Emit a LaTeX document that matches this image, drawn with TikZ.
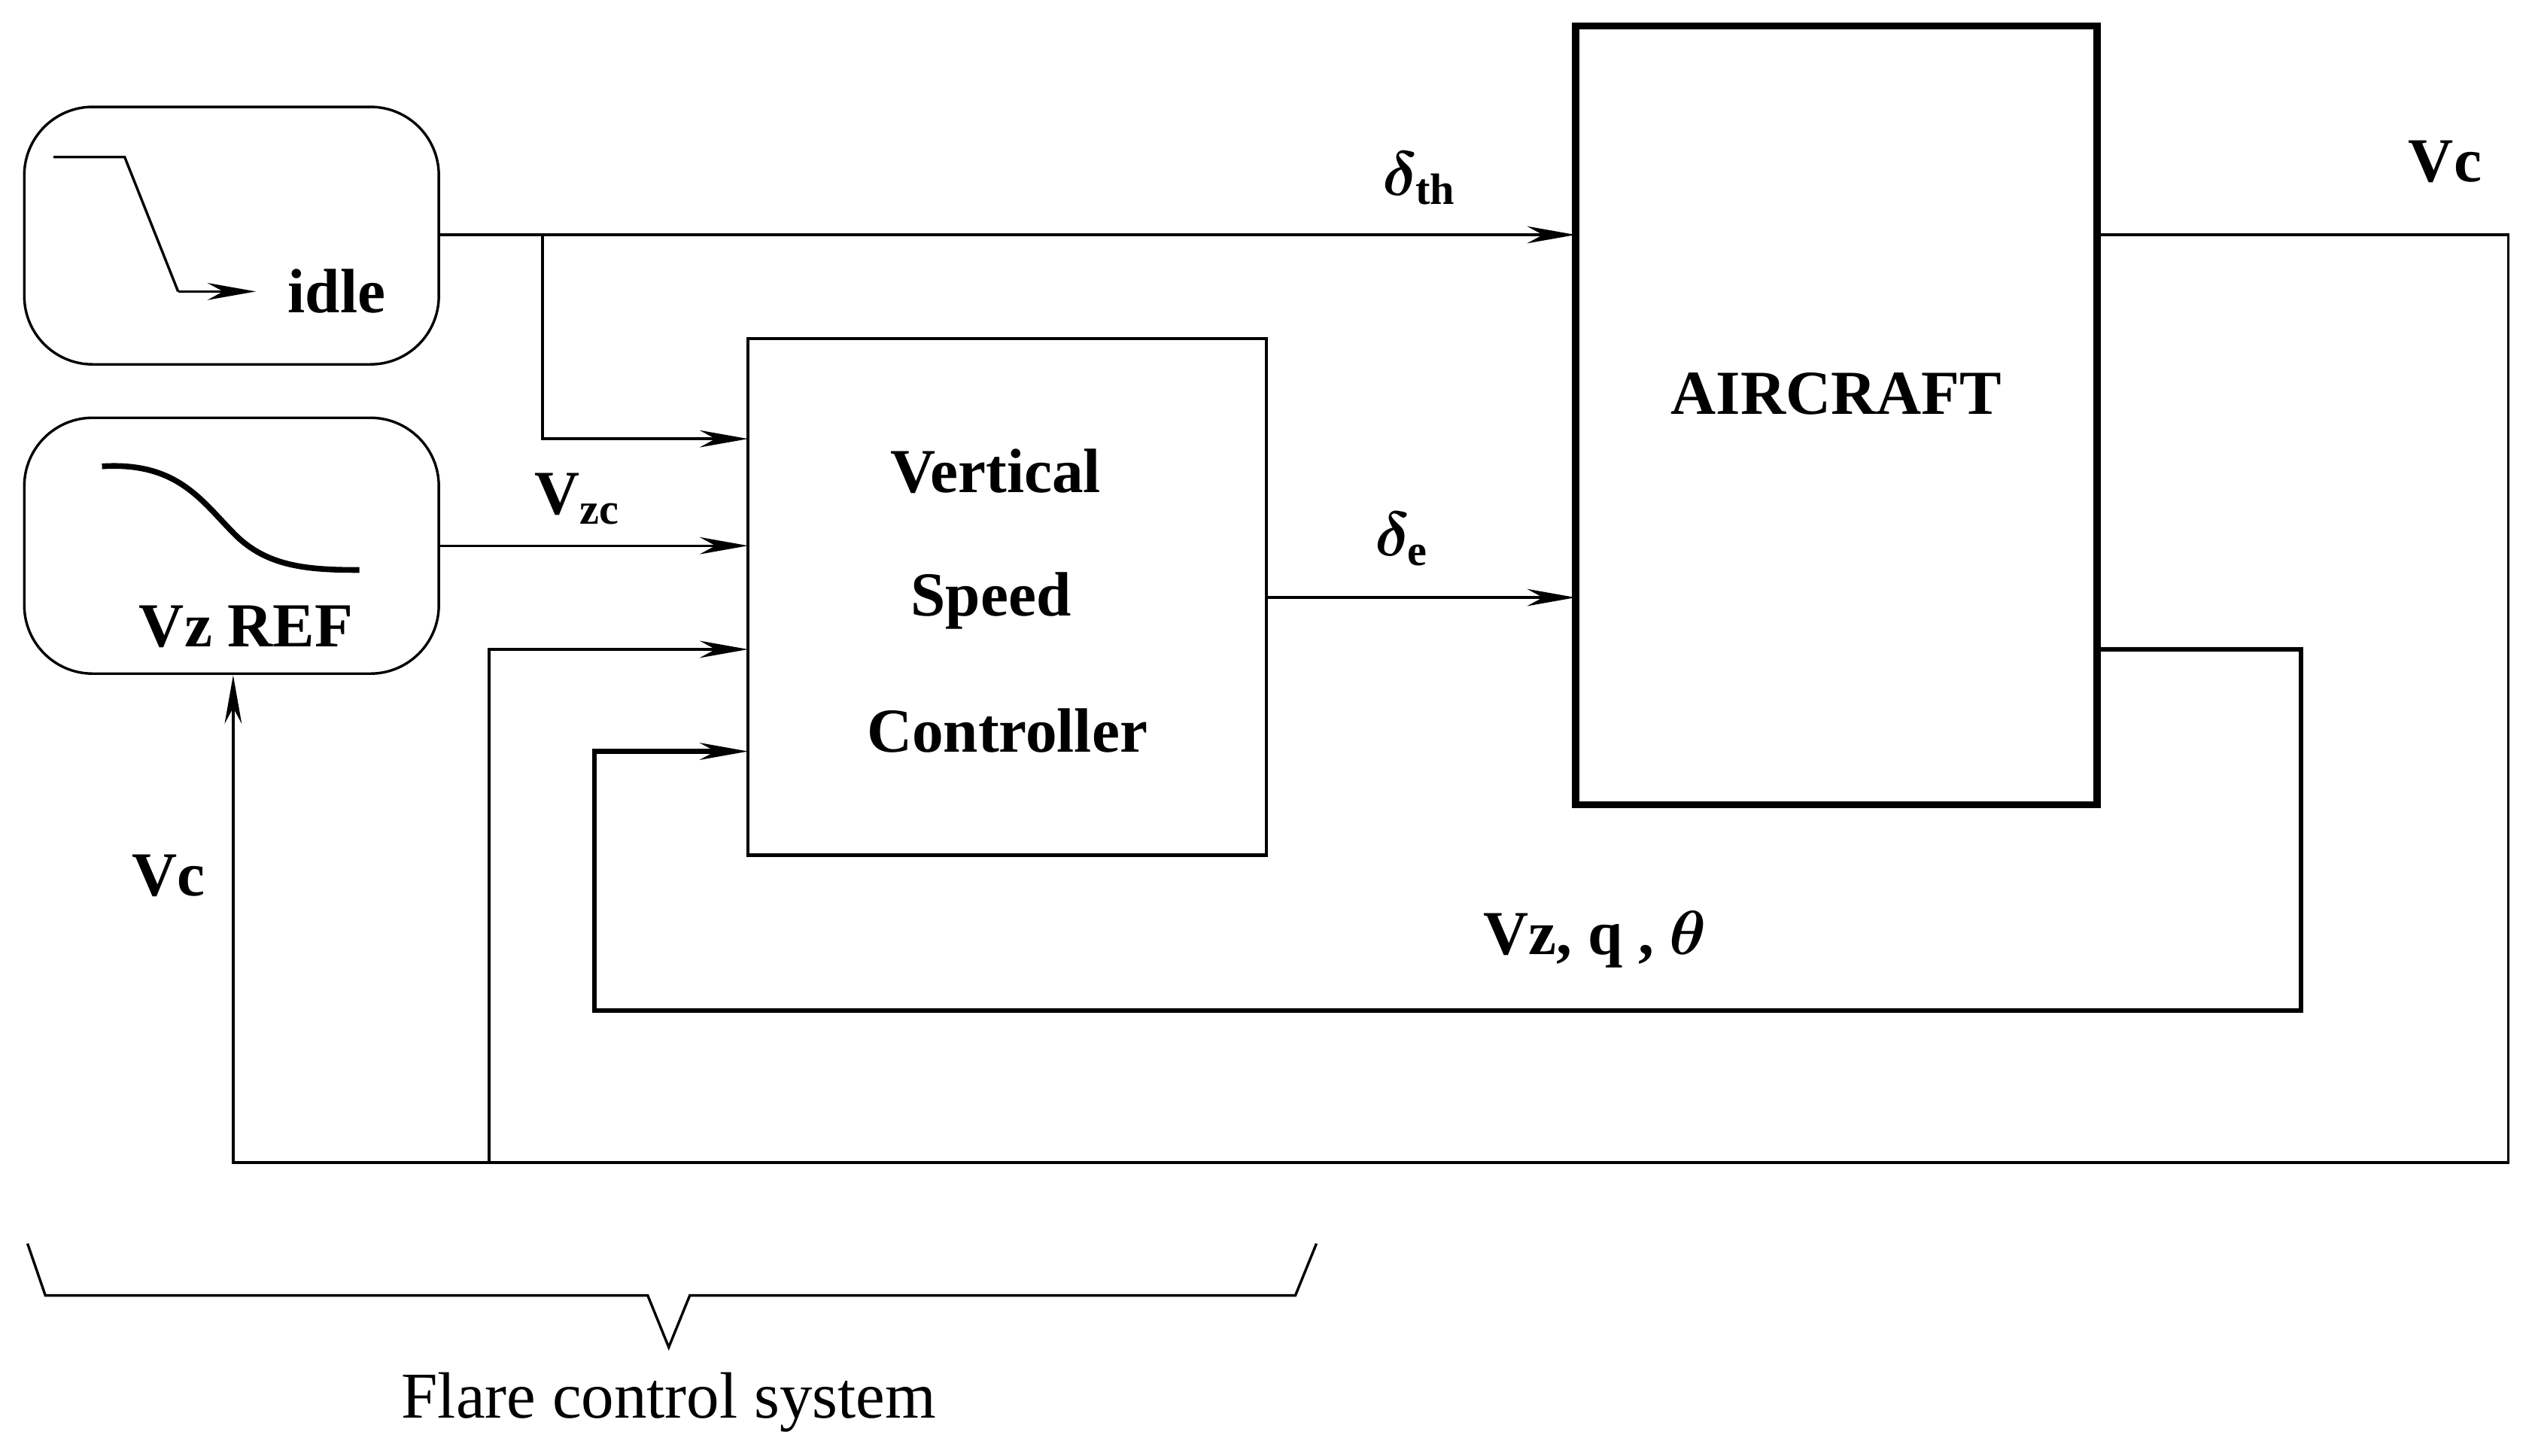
\documentclass[tikz,border=0pt]{standalone}
\usepackage{amsmath,bm}
\usepackage{fontspec}
\setmainfont{Liberation Serif}
\usetikzlibrary{arrows.meta}
\begin{document}
\begin{tikzpicture}[x=0.01cm,y=-0.01cm,
  ln/.style={line width=0.45pt},
  arr/.style={ln,-{Stealth[length=8.5pt,width=3pt]}},
  lbl/.style={font=\fontsize{11}{13}\selectfont\bfseries}]
\useasboundingbox (0,0) rectangle (1560,899);
% boxes
\draw[ln,rounded corners=12pt] (15,66) rectangle (271,225);
\draw[ln,rounded corners=12pt] (15,258) rectangle (271,416);
\draw[line width=0.6pt] (462,209) rectangle (782,528);
\draw[line width=1.3pt] (973,16) rectangle (1295,497);
\coordinate (thA) at (271,145); \coordinate (thB) at (973,145);
\coordinate (zcA) at (271,337); \coordinate (zcB) at (462,337);
% texts
\node[lbl] at (208,180) {idle};
\node[lbl] at (152,387) {Vz REF};
\node[lbl] at (615,291) {Vertical};
\node[lbl] at (612,371) {Speed};
\node[lbl] at (622,451) {Controller};
\node[lbl] at (1134,243) {AIRCRAFT};
\node[lbl] at (877,110) {$\bm\delta_{\textbf{th}}$};
\node[lbl] at (866,333) {$\bm\delta_{\textbf{e}}$};
\node[lbl] at (357,308) {V$_{\textbf{zc}}$};
\node[lbl] at (985,580) {Vz, q , $\bm\theta$};
\node[lbl] at (1510,100) {Vc};
\node[lbl] at (104,541) {Vc};
\node[font=\fontsize{11.5}{13}\selectfont] at (413,866) {Flare control system};
% icons
\draw[ln] (33,97) -- (77,97) -- (110,180);
\draw[arr] (110,180) -- (158,180);
\draw[line width=1pt] (63,288) .. controls (110,285) and (125,310) .. (145,330) .. controls (165,350) and (190,352) .. (222,352);
% connectors
\draw[arr] (thA) -- (thB);
\draw[arr] (335,145) -- (335,271) -- (462,271);
\draw[arr] (zcA) -- (zcB);
\draw[arr] (302,718) -- (302,401) -- (462,401);
\draw[arr] (782,369) -- (973,369);
\draw[line width=0.8pt,-{Stealth[length=8.5pt,width=3pt]}] (1295,401) -- (1421,401) -- (1421,624) -- (367,624) -- (367,464) -- (462,464);
\draw[arr] (1295,145) -- (1549,145) -- (1549,718) -- (144,718) -- (144,417);
% brace
\draw[ln] (17,768) -- (28,800) -- (400,800) -- (413,832) -- (426,800) -- (800,800) -- (813,768);
\end{tikzpicture}
\end{document}
